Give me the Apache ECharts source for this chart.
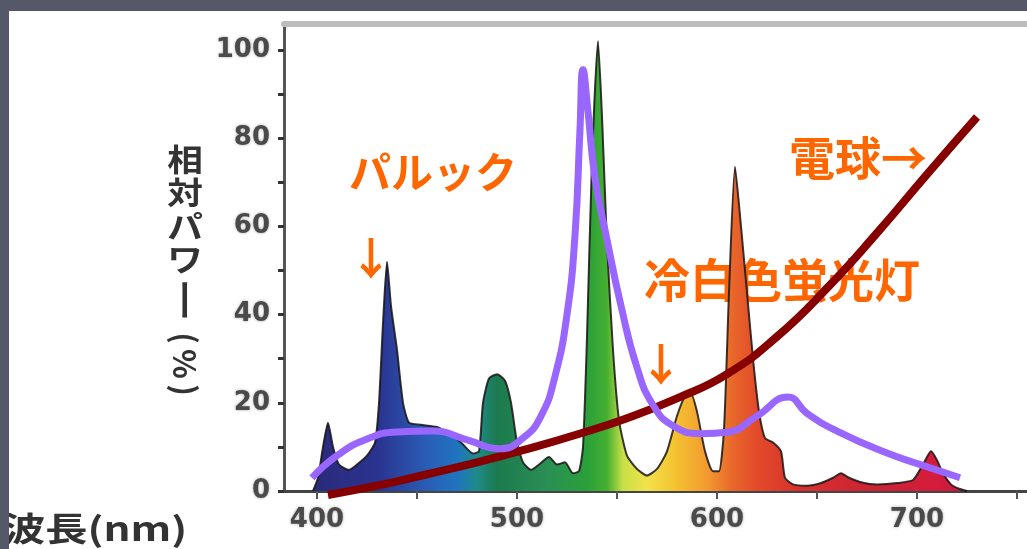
<!DOCTYPE html>
<html><head><meta charset="utf-8">
<script src="https://cdn.jsdelivr.net/npm/echarts@6/dist/echarts.min.js"></script>
<style>html,body{margin:0;padding:0;background:#fff}#c{width:1027px;height:549px}</style>
</head><body><div id="c"></div>
<script>
// Cool white fluorescent spectrum (冷白色蛍光灯)
const specNm  = [398,400.5,403,405.5,408,411,416,420,425,429,431,433,435,437,440,443,446,452,460,466,472,478,481,483,486,490,494,497,500,503,507,511,516,520,524,528,531,533,535,537.5,540.5,542.5,545,548,551,555,560,565,570,575,580,584,587,590,594,598,601,603.5,606,609,612,615,618,621,624,628,632,634,638,645,652,658,662,666,672,680,690,698,703,707,710,713,717,721,725];
const specVal = [0,3,10,15.5,10,6,4.8,6,8,11,20,38,52,42,32,20,15.5,15,14.5,13,11,8.5,9,20,25.5,26.5,25,20,11,6.5,4.8,6,7.7,6,6.5,4,4.5,10,35,75,102,85,56,32,16,8,5,3.5,5,9,17,21.5,22,18,9,4.5,4.5,14,45,73.5,60,45,30,18,12,11,9,3,1.5,1.2,1.8,3,4,3,2,1.5,1.8,2.5,6,9,7,4,1.5,0.5,0];
// パルック
const palNm  = [397.5,410,425,440,458,475,491.5,503,512,519,525,529,531.5,533,535.5,539,545,552,560,568,578,592,605,620,635.5,645,660,685,705,721.5];
const palVal = [3,8,11.8,13.4,13.6,11.6,9.6,12,17,26,40,58,82,95.5,86,71,57,42,28,19.5,14.8,13,13.3,17,21.3,17.6,13.6,8.6,5.5,3];
// 電球
const bulbNm  = [405.5,430,455,480,505,530,555,580,605,630,655,680,705,730];
const bulbVal = [-0.9,1.2,3.8,6.5,9.5,12.8,16.5,21,26.5,35,46,58.5,71.8,84.8];

const xLabelVals = [400,500,600,700];
const xTickVals = [400,450,500,550,600,650,700,750];
const yLabelVals = [0,20,40,60,80,100];
const yTickVals = [0,10,20,30,40,50,60,70,80,90,100];

const yTitle = '相対パワー(%)';
const xTitle = '波長(nm)';
const lblPalc = 'パルック';
const lblFl = '冷白色蛍光灯';
const lblBulb = '電球→';
const arrowDown = '↓';

const zip = (a, b) => a.map((v, i) => [v, b[i]]);

// rainbow fill by wavelength
const gradNm = [398,430,455,470,480,490,515,535,545,553,565,580,595,608,620,640,680,710,725];
const gradCol = ['#2b2a7a','#2a3390','#2a5db5','#1f74c0','#1e8a8a','#1c7a4e','#2a8f55','#2aa03a','#45b030','#c8e048','#f2e24a','#f4c030','#f29a30','#e8662a','#e34a2a','#d8322e','#cc2236','#d41c3c','#c01a38'];
const n0 = specNm[0], n1 = specNm[specNm.length - 1];
const stops = gradNm.map((n, i) => ({offset: (n - n0) / (n1 - n0), color: gradCol[i]}));

const chart = echarts.init(document.getElementById('c'), null, {renderer: 'canvas'});
const cjk = '"Noto Sans CJK JP", "Noto Sans", sans-serif';
const orange = '#ff6600';

const yCenters = [159,192,226,259,300,338,364,390];
const titleGraphics = Array.from(yTitle).map((ch, i) => ({
  type: 'text', x: 185, y: yCenters[i], rotation: i >= 4 ? -Math.PI / 2 : 0,
  scaleX: i === 4 ? 1.4 : (i >= 4 ? 1 : 1.15),
  style: {text: ch, fill: '#333', font: 'bold 31px ' + cjk, align: 'center', verticalAlign: 'middle'}
}));

const option = {
  backgroundColor: '#ffffff',
  animation: false,
  grid: {left: 284, right: 0, top: 23.5, bottom: 58},
  xAxis: [{
    type: 'value', min: 383.5, max: 755,
    axisLine: {lineStyle: {color: '#444', width: 3}},
    axisTick: {show: true, customValues: xTickVals, length: 8, lineStyle: {color: '#555', width: 2}},
    axisLabel: {customValues: xLabelVals, margin: 16, color: '#4a4a4a', fontFamily: 'DejaVu Sans', fontWeight: 'bold', fontSize: 26,
      textShadowColor: 'rgba(0,0,0,0.35)', textShadowBlur: 3},
    splitLine: {show: false}
  }, {
    type: 'value', position: 'top', min: 383.5, max: 755,
    axisLine: {show: true, lineStyle: {color: '#bdbdbd', width: 6}},
    axisTick: {show: false}, axisLabel: {show: false}, splitLine: {show: false}
  }],
  yAxis: {
    type: 'value', min: 0, max: 106,
    axisLine: {show: true, lineStyle: {color: '#555', width: 3}},
    axisTick: {show: true, customValues: yTickVals, length: 6, lineStyle: {color: '#333', width: 3}},
    axisLabel: {customValues: yLabelVals, margin: 14, color: '#4a4a4a', fontFamily: 'DejaVu Sans', fontWeight: 'bold', fontSize: 26,
      textShadowColor: 'rgba(0,0,0,0.35)', textShadowBlur: 3},
    splitLine: {show: false}
  },
  series: [{
    name: '冷白色蛍光灯', type: 'line', data: zip(specNm, specVal), symbol: 'none', smooth: 0.2,
    lineStyle: {color: 'rgba(25,20,20,0.85)', width: 2},
    areaStyle: {opacity: 1, color: new echarts.graphic.LinearGradient(0, 0, 1, 0, stops)},
    z: 2
  }, {
    name: '電球', type: 'line', data: zip(bulbNm, bulbVal), symbol: 'none', smooth: 0.5, clip: false,
    lineStyle: {color: '#860000', width: 8}, z: 3
  }, {
    name: 'パルック', type: 'line', data: zip(palNm, palVal), symbol: 'none', smooth: 0.5, clip: false,
    lineStyle: {color: '#9966ff', width: 7}, z: 4
  }],
  graphic: [
    ...titleGraphics,
    {type: 'text', x: 3, y: 528, scaleX: 1.28, style: {text: xTitle, fill: '#333', font: 'bold 33px ' + cjk, verticalAlign: 'middle'}},
    {type: 'text', x: 433, y: 172, style: {text: lblPalc, fill: orange, font: 'bold 42px ' + cjk, align: 'center', verticalAlign: 'middle'}},
    {type: 'text', x: 371, y: 258, style: {text: arrowDown, fill: orange, font: 'bold 44px ' + cjk, align: 'center', verticalAlign: 'middle'}},
    {type: 'text', x: 782, y: 280, style: {text: lblFl, fill: orange, font: 'bold 46px ' + cjk, align: 'center', verticalAlign: 'middle'}},
    {type: 'text', x: 661, y: 364, style: {text: arrowDown, fill: orange, font: 'bold 44px ' + cjk, align: 'center', verticalAlign: 'middle'}},
    {type: 'text', x: 858, y: 158, style: {text: lblBulb, fill: orange, font: 'bold 46px ' + cjk, align: 'center', verticalAlign: 'middle'}},
    {type: 'rect', shape: {x: 0, y: 0, width: 1027, height: 11}, style: {fill: '#555869'}, z: 100},
    {type: 'rect', shape: {x: 0, y: 0, width: 9, height: 549}, style: {fill: '#555869'}, z: 100}
  ]
};
chart.setOption(option);
</script>
</body></html>
